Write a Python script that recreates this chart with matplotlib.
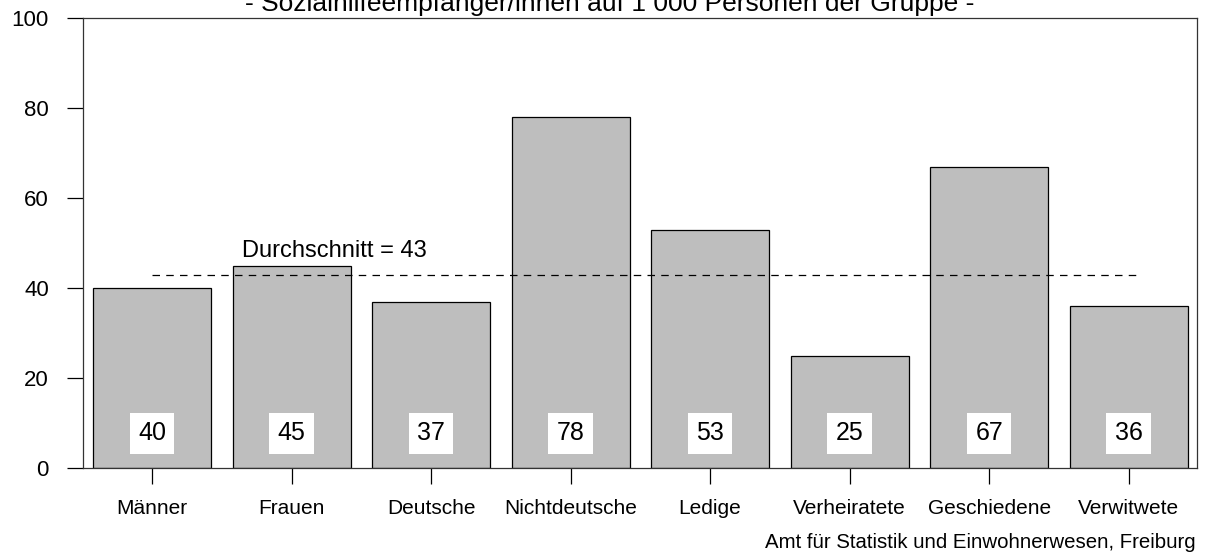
import numpy as np
import matplotlib.pyplot as plt

plt.rcParams['font.family'] = ['Liberation Sans', 'DejaVu Sans']

gruppen = ['Männer', 'Frauen', 'Deutsche', 'Nichtdeutsche', 'Ledige',
           'Verheiratete', 'Geschiedene', 'Verwitwete']
werte = [40, 45, 37, 78, 53, 25, 67, 36]
durchschnitt = 43
yticks = [0, 20, 40, 60, 80, 100]

fig = plt.figure(figsize=(12.05, 5.57), dpi=100)
ax = fig.add_axes([83/1205, 89/557, 1114/1205, 450/557])

x = np.arange(len(gruppen))
ax.bar(x, werte, width=0.846, color='#bebebe', edgecolor='black', linewidth=0.9)

# Werte in weissen Kaestchen unten in den Balken
for xi, v in zip(x, werte):
    ax.text(xi, 7.7, str(v), ha='center', va='center', fontsize=18,
            bbox=dict(facecolor='white', edgecolor='none', pad=6))

# Durchschnittslinie
ax.plot([0, 7.08], [durchschnitt, durchschnitt], color='black', lw=0.9,
        linestyle=(0, (6, 5)))
ax.text(0.645, durchschnitt + 3.8, 'Durchschnitt = %d' % durchschnitt,
        ha='left', va='baseline', fontsize=17)

ax.set_xlim(-0.495, 7.49)
ax.set_ylim(0, 100)
ax.set_yticks(yticks)
ax.set_xticks(x)
ax.set_xticklabels(gruppen)
ax.tick_params(axis='y', length=11.5, width=0.9, pad=13, labelsize=16)
ax.tick_params(axis='x', length=11.5, width=0.9, pad=11, labelsize=15)
for s in ax.spines.values():
    s.set_linewidth(0.9)
    s.set_color('#333333')

fig.text(610/1205, 1 - 11/557, '- Sozialhilfeempfänger/innen auf 1 000 Personen der Gruppe -',
         ha='center', va='baseline', fontsize=19)
fig.text(1196/1205, 1 - 548/557, 'Amt für Statistik und Einwohnerwesen, Freiburg',
         ha='right', va='baseline', fontsize=14.7)

plt.savefig('out.png', dpi=100)
